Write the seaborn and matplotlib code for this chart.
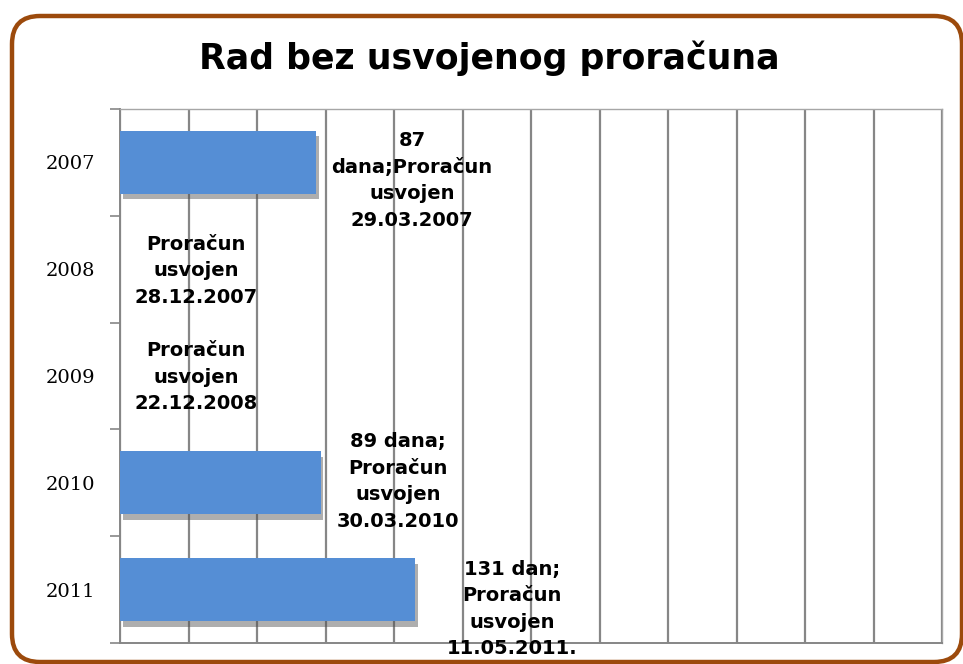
import matplotlib
matplotlib.use('Agg')
import matplotlib.pyplot as plt
import matplotlib.patheffects as pe
from matplotlib.patches import FancyBboxPatch
from matplotlib.transforms import IdentityTransform
import numpy as np
import seaborn as sns

# --- data --- #
years = ['2007', '2008', '2009', '2010', '2011']
days = [87, 0, 0, 89, 131]
labels = [
    '87\ndana;Proračun\nusvojen\n29.03.2007',
    'Proračun\nusvojen\n28.12.2007',
    'Proračun\nusvojen\n22.12.2008',
    '89 dana;\nProračun\nusvojen\n30.03.2010',
    '131 dan;\nProračun\nusvojen\n11.05.2011.',
]
# label offsets from the bar end (points)
label_dx = [69, 55, 55, 56, 70]
label_dy = [-13, -1, -1, 1, -14]

sns.set_style('white')
plt.rcParams['font.family'] = ['DejaVu Sans']
plt.rcParams['text.color'] = 'black'

fig = plt.figure(figsize=(9.63, 6.64), dpi=100)
ax = fig.add_axes([0.1246, 0.0316, 0.854, 0.8042])

sns.barplot(x=days, y=years, orient='h', color='#558ED5', width=0.59,
            saturation=1, linewidth=0, edgecolor='none', ax=ax, zorder=3)
for bar, v in zip(ax.patches, days):
    if v > 0:
        bar.set_path_effects([pe.SimplePatchShadow(offset=(2, -4), shadow_rgbFace='#4d4d4d', alpha=0.45),
                              pe.Normal()])

# grid
ax.set_xlim(0, 365)
ax.set_xticks(np.linspace(0, 365, 13))
ax.set_xticklabels([])
ax.tick_params(axis='x', length=0)
ax.grid(axis='x', color='#868686', linewidth=1.6, zorder=0)
ax.set_axisbelow(True)

# y axis: labels at centres, tick marks at category boundaries
ax.set_ylim(4.5, -0.5)
ax.set_yticks(range(len(years)))
ax.set_yticklabels(years, family='DejaVu Serif', fontsize=14, color='black')
ax.tick_params(axis='y', which='major', length=0, pad=18)
ax.set_yticks(np.arange(-0.5, len(years)), minor=True)
ax.tick_params(axis='y', which='minor', length=7, width=1.2, color='#868686', left=True)
ax.set_ylabel('')

for side in ['left', 'bottom']:
    ax.spines[side].set_color('#868686')
    ax.spines[side].set_linewidth(1.4)
for side in ['top', 'right']:
    ax.spines[side].set_color('#A6A6A6')
    ax.spines[side].set_linewidth(1.0)

for i, (v, t) in enumerate(zip(days, labels)):
    ax.annotate(t, xy=(v, i), xytext=(label_dx[i], label_dy[i]), textcoords='offset points',
                ha='center', va='center', fontsize=14, fontweight='bold', color='black',
                linespacing=1.5, zorder=5)

fig.text(0.508, 1 - 58 / 664, 'Rad bez usvojenog proračuna', ha='center', va='center',
         fontsize=25, fontweight='bold', color='black')

# rounded brown frame
frame = FancyBboxPatch((12 + 28, 2 + 28), 950 - 56, 646 - 56,
                       boxstyle='round,pad=28,rounding_size=28',
                       transform=IdentityTransform(), fill=False,
                       edgecolor='#9C4A0C', linewidth=3.2)
fig.patches.append(frame)

fig.savefig('out.png', dpi=100)
